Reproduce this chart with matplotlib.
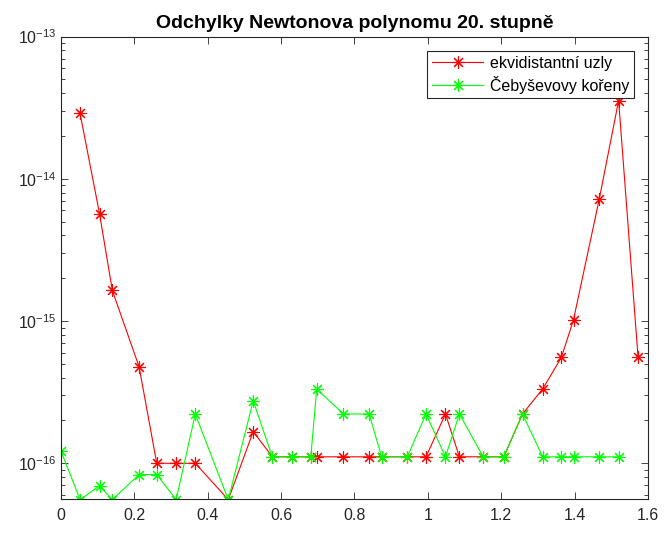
import numpy as np
import matplotlib
matplotlib.use('Agg')
import matplotlib.pyplot as plt
from matplotlib.ticker import FixedLocator, FixedFormatter, LogLocator, NullFormatter

plt.rcParams.update({
    'font.family': ['Liberation Sans', 'DejaVu Sans'],
    'mathtext.fontset': 'custom',
    'mathtext.rm': 'Liberation Sans',
    'xtick.direction': 'in',
    'ytick.direction': 'in',
})

# ── Data ──────────────────────────────────────────────────────────────────────
x = [0, 0.052, 0.105, 0.140, 0.213, 0.261, 0.314, 0.366, 0.456, 0.524,
     0.576, 0.629, 0.681, 0.697, 0.770, 0.840, 0.874, 0.944, 0.995, 1.048,
     1.086, 1.151, 1.207, 1.258, 1.313, 1.364, 1.397, 1.467, 1.520, 1.573]

err_equi = [np.nan, 2.88e-14, 5.7e-15, 1.64e-15, 4.76e-16, 1.0e-16, 1.0e-16, 1.0e-16, 5.55e-17, 1.67e-16,
            1.11e-16, 1.11e-16, 1.11e-16, 1.11e-16, 1.11e-16, 1.11e-16, 1.11e-16, 1.11e-16, 1.11e-16, 2.22e-16,
            1.11e-16, 1.11e-16, 1.11e-16, 2.22e-16, 3.33e-16, 5.55e-16, 1.02e-15, 7.16e-15, 3.55e-14, 5.55e-16]

err_cheb = [1.22e-16, 5.55e-17, 6.93e-17, 5.55e-17, 8.33e-17, 8.33e-17, 5.55e-17, 2.22e-16, 5.55e-17, 2.75e-16,
            1.11e-16, 1.11e-16, 1.11e-16, 3.33e-16, 2.22e-16, 2.22e-16, 1.11e-16, 1.11e-16, 2.22e-16, 1.11e-16,
            2.22e-16, 1.11e-16, 1.11e-16, 2.22e-16, 1.11e-16, 1.11e-16, 1.11e-16, 1.11e-16, 1.11e-16, np.nan]

xticks = [0, 0.2, 0.4, 0.6, 0.8, 1.0, 1.2, 1.4, 1.6]
xticklabels = ['0', '0.2', '0.4', '0.6', '0.8', '1', '1.2', '1.4', '1.6']
yticks = [1e-16, 1e-15, 1e-14, 1e-13]
yticklabels = [r'$10^{-16}$', r'$10^{-15}$', r'$10^{-14}$', r'$10^{-13}$']

# ── Plot ──────────────────────────────────────────────────────────────────────
fig = plt.figure(figsize=(6.65, 5.34), dpi=100)
ax = fig.add_axes([0.0917, 0.065, 0.8827, 0.8665])

asterisk = (8, 2, 0)
ax.plot(x, err_equi, color=(1, 0, 0), linewidth=0.8, marker=asterisk,
        markersize=9, markeredgewidth=0.8, label='ekvidistantní uzly')
ax.plot(x, err_cheb, color=(0, 1, 0), linewidth=0.8, marker=asterisk,
        markersize=9, markeredgewidth=0.8, label='Čebyševovy kořeny')

ax.set_yscale('log')
ax.set_xlim(0, 1.6)
ax.set_ylim(5.58e-17, 1e-13)

ax.xaxis.set_major_locator(FixedLocator(xticks))
ax.xaxis.set_major_formatter(FixedFormatter(xticklabels))
ax.yaxis.set_major_locator(FixedLocator(yticks))
ax.yaxis.set_major_formatter(FixedFormatter(yticklabels))
ax.yaxis.set_minor_locator(LogLocator(base=10, subs=np.arange(2, 10), numticks=10))
ax.yaxis.set_minor_formatter(NullFormatter())

axis_color = '#262626'
for s in ax.spines.values():
    s.set_color(axis_color)
    s.set_linewidth(0.8)
ax.tick_params(which='both', top=True, right=True, colors=axis_color,
               labelcolor=axis_color, labelsize=11.5, width=0.6)
ax.tick_params(which='major', length=5)
ax.tick_params(which='minor', length=3)
ax.tick_params(axis='x', pad=6)

ax.set_title('Odchylky Newtonova polynomu 20. stupně', fontsize=14,
             fontweight='bold', pad=6)

leg = ax.legend(loc='upper right', bbox_to_anchor=(0.976, 0.969), fontsize=11.5,
                fancybox=False, framealpha=1, edgecolor=axis_color,
                borderpad=0.3, handlelength=3.2, labelspacing=0.3,
                handletextpad=0.4, borderaxespad=0)
leg.get_frame().set_linewidth(0.8)

fig.savefig('out.png', dpi=100)
